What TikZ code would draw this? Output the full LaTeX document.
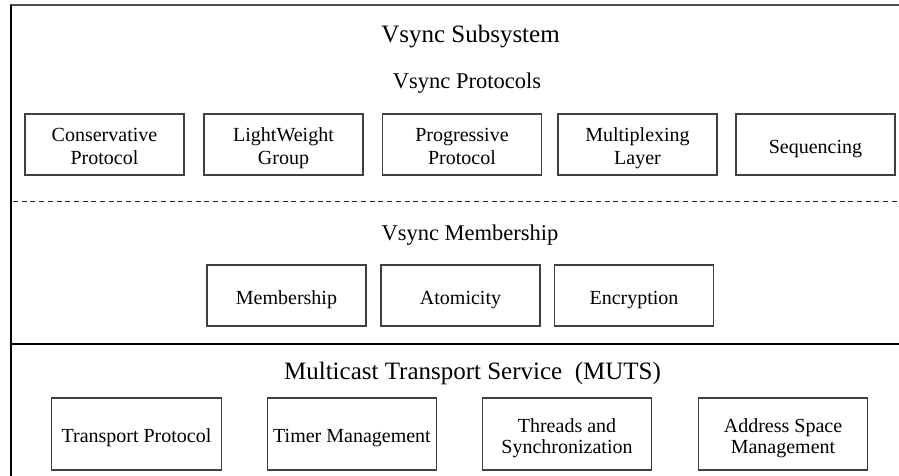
\documentclass[tikz,border=0pt]{standalone}
\usepackage{fontspec}
\setmainfont{Liberation Serif}
\newcommand\boxlinea[1]{\rule[-2.7pt]{0pt}{22.6pt}\smash{#1}}
\newcommand\boxlineb[1]{\rule[-1.9pt]{0pt}{21pt}\smash{#1}}
\begin{document}
\begin{tikzpicture}[x=1pt,y=-1pt,
  box/.style={draw=black!75, line width=1.1pt, inner sep=0pt, align=center},
  rowone/.style={box, minimum width=159pt, minimum height=61pt, font=\fontsize{20}{22.6}\selectfont},
  rowtwo/.style={box, minimum width=159pt, minimum height=61pt, font=\fontsize{20}{22.6}\selectfont},
  rowthree/.style={box, minimum width=169.5pt, minimum height=72pt, font=\fontsize{20}{21}\selectfont},
  bigtitle/.style={anchor=base, inner sep=0pt, font=\fontsize{25}{28}\selectfont},
  subtitle/.style={anchor=base, inner sep=0pt, font=\fontsize{22.5}{26}\selectfont}]
\useasboundingbox (0,0) rectangle (899,476);
% frame
\draw[black!70, line width=2pt] (10.3,5) -- (899,5);
\draw[black, line width=1.5pt] (11,5) -- (11,476);
\draw[black!85, line width=1.2pt, dash pattern=on 5pt off 3.7pt] (13,201.5) -- (899,201.5);
\draw[black, line width=1.3pt] (11,344) -- (899,344);
% titles
\node[bigtitle] (tsub) at (470.5,42.7) {Vsync Subsystem};
\node[subtitle] (tprot) at (467,88.3) {Vsync Protocols};
\node[subtitle] (tmem) at (470,240) {Vsync Membership};
\node[bigtitle] (tmuts) at (472.5,379) {Multicast Transport Service\ \ (MUTS)};
% row 1
\node[rowone] (cons) at (104.5,144.5) {\boxlinea{Conservative}\\\boxlinea{Protocol}};
\node[rowone] (lwg) at (283.5,144.5) {\boxlinea{LightWeight}\\\boxlinea{Group}};
\node[rowone] (prog) at (462,144.5) {\boxlinea{Progressive}\\\boxlinea{Protocol}};
\node[rowone] (mux) at (637.5,144.5) {\boxlinea{Multiplexing}\\\boxlinea{Layer}};
\node[rowone] (seq) at (815.5,144.5) {\boxlinea{Sequencing}};
% row 2
\node[rowtwo] (memb) at (286.5,295.5) {\boxlinea{Membership}};
\node[rowtwo] (atom) at (460.5,295.5) {\boxlinea{Atomicity}};
\node[rowtwo] (encr) at (634,295.5) {\boxlinea{Encryption}};
% row 3
\node[rowthree] (tp) at (136.5,434) {\boxlineb{Transport Protocol}};
\node[rowthree] (tm) at (352,434) {\boxlineb{Timer Management}};
\node[rowthree] (thr) at (567,434) {\boxlineb{Threads and}\\\boxlineb{Synchronization}};
\node[rowthree] (asm) at (783,434) {\boxlineb{Address Space}\\\boxlineb{Management}};
\end{tikzpicture}
\end{document}
